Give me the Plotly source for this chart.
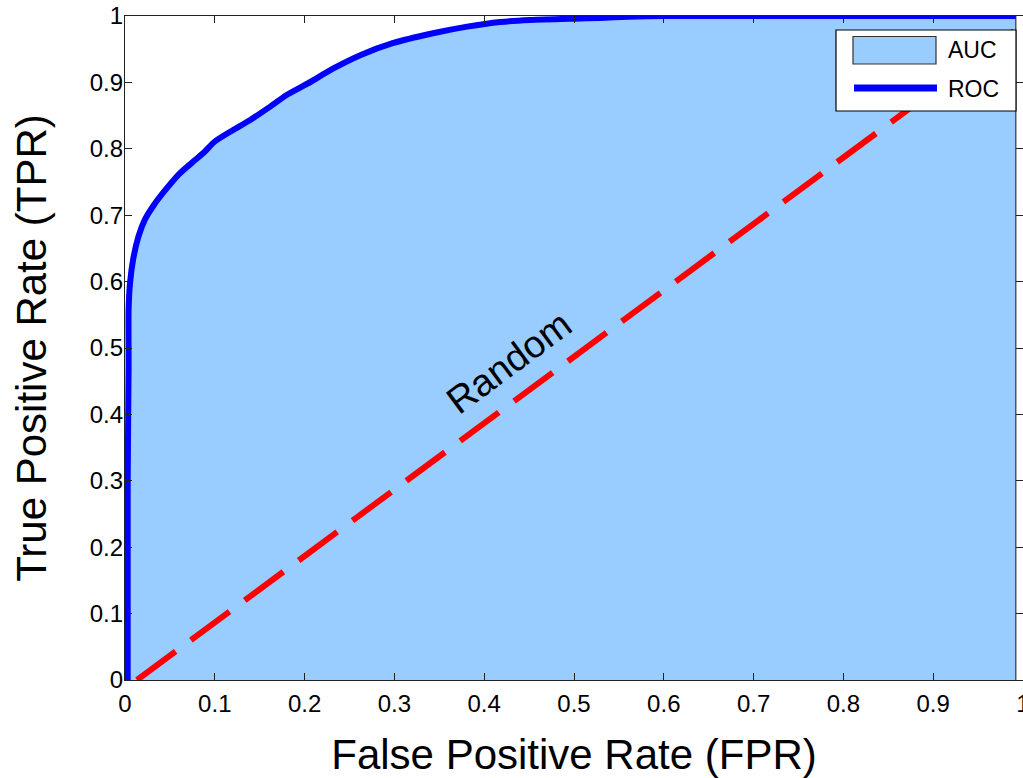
import plotly.graph_objects as go

# ROC curve values
fpr = [0.0, 0.002, 0.003, 0.003, 0.004, 0.004, 0.0056, 0.009, 0.015, 0.022, 0.032, 0.045,
       0.061, 0.078, 0.089, 0.1, 0.12, 0.139, 0.16, 0.18, 0.203, 0.232, 0.262, 0.298,
       0.343, 0.381, 0.418, 0.451, 0.5, 0.529, 0.56, 0.6, 0.7, 0.8, 0.9, 0.992]
tpr = [0.0, 0.0, 0.0, 0.3, 0.472, 0.557, 0.598, 0.633, 0.668, 0.693, 0.715, 0.738,
       0.763, 0.783, 0.796, 0.811, 0.828, 0.843, 0.862, 0.881, 0.898, 0.921, 0.941, 0.959,
       0.974, 0.984, 0.991, 0.994, 0.996, 0.997, 0.999, 1.0, 1.0, 1.0, 1.0, 1.0]

# Random-guess diagonal
rand_x = [0.0134, 0.99]
rand_y = [0.0, 0.977]

x_ticks = [0, 0.1, 0.2, 0.3, 0.4, 0.5, 0.6, 0.7, 0.8, 0.9, 1]
y_ticks = [0, 0.1, 0.2, 0.3, 0.4, 0.5, 0.6, 0.7, 0.8, 0.9, 1]
x_tick_text = ["0", "0.1", "0.2", "0.3", "0.4", "0.5", "0.6", "0.7", "0.8", "0.9", "1"]
y_tick_text = ["0", "0.1", "0.2", "0.3", "0.4", "0.5", "0.6", "0.7", "0.8", "0.9", "1"]
legend_labels = ["AUC", "ROC"]

FONT = "Liberation Sans, Arial, sans-serif"
AREA_COLOR = "#99CCFF"
ROC_COLOR = "#0000FF"
RAND_COLOR = "#FF0000"

# page-pixel geometry of the plot area (used only for the hand-drawn legend)
PX0, PX1, PY0, PY1 = 125.0, 1023.0, 680.0, 16.0


def px(x):
    return (x - PX0) / (PX1 - PX0)


def py(y):
    return (PY0 - y) / (PY0 - PY1)


fig = go.Figure()

# AUC area (closed down to zero at the right edge)
fig.add_trace(go.Scatter(
    x=fpr + [fpr[-1]], y=tpr + [0.0],
    mode="lines", fill="tozeroy",
    fillcolor=AREA_COLOR,
    line=dict(color="#333333", width=1.2),
    name=legend_labels[0], showlegend=False,
))

# Random diagonal
fig.add_trace(go.Scatter(
    x=rand_x, y=rand_y, mode="lines",
    line=dict(color=RAND_COLOR, width=6, dash="48px,19px"),
    showlegend=False,
))

# ROC curve
fig.add_trace(go.Scatter(
    x=fpr[2:], y=tpr[2:], mode="lines",
    line=dict(color=ROC_COLOR, width=6, shape="spline", smoothing=0.6),
    name=legend_labels[1], showlegend=False,
))

fig.add_annotation(
    x=0.428, y=0.479, xref="x", yref="y",
    text="Random", showarrow=False, textangle=-36.5,
    font=dict(family=FONT, size=38, color="black"),
)

# Hand-drawn legend (MATLAB style)
shapes = [
    dict(type="rect", xref="paper", yref="paper", layer="above",
         x0=px(836), x1=px(1016), y0=py(111), y1=py(30),
         fillcolor="white", line=dict(color="black", width=1.2)),
    dict(type="rect", xref="paper", yref="paper", layer="above",
         x0=px(853), x1=px(936), y0=py(64), y1=py(36.5),
         fillcolor=AREA_COLOR, line=dict(color="#333333", width=1.2)),
    dict(type="line", xref="paper", yref="paper", layer="above",
         x0=px(854), x1=px(937), y0=py(88), y1=py(88),
         line=dict(color=ROC_COLOR, width=7)),
]
fig.update_layout(shapes=shapes)
for label, ypix in zip(legend_labels, [50.5, 88.5]):
    fig.add_annotation(
        x=px(946), y=py(ypix), xref="paper", yref="paper",
        xanchor="left", yanchor="middle", text=label, showarrow=False,
        font=dict(family=FONT, size=23, color="black"),
    )

axis_common = dict(
    range=[0, 1], showgrid=False, zeroline=False, automargin=False,
    showline=True, linecolor="#222222", linewidth=1.2, mirror="ticks",
    ticks="inside", ticklen=7, tickcolor="#222222", tickwidth=1,
    tickfont=dict(family=FONT, size=24, color="black"),
    ticklabeloverflow="allow",
)

fig.update_xaxes(
    **axis_common, tickvals=x_ticks, ticktext=x_tick_text, ticklabelstandoff=2,
    title=dict(text="False Positive Rate (FPR)", font=dict(family=FONT, size=42, color="black"), standoff=23),
)
fig.update_yaxes(
    **axis_common, tickvals=y_ticks, ticktext=y_tick_text, ticklabelstandoff=-4,
    title=dict(text="True Positive Rate (TPR)", font=dict(family=FONT, size=42, color="black"), standoff=30),
)

fig.update_layout(
    width=1023, height=778,
    margin=dict(l=125, r=0, t=16, b=98),
    paper_bgcolor="white", plot_bgcolor="white",
    showlegend=False,
)

# remove the default page margin so the figure sits at the window's corner
fig.write_html(
    "out.html",
    config={"displayModeBar": False},
    post_script="document.body.style.margin='0';document.body.style.overflow='hidden';",
)
